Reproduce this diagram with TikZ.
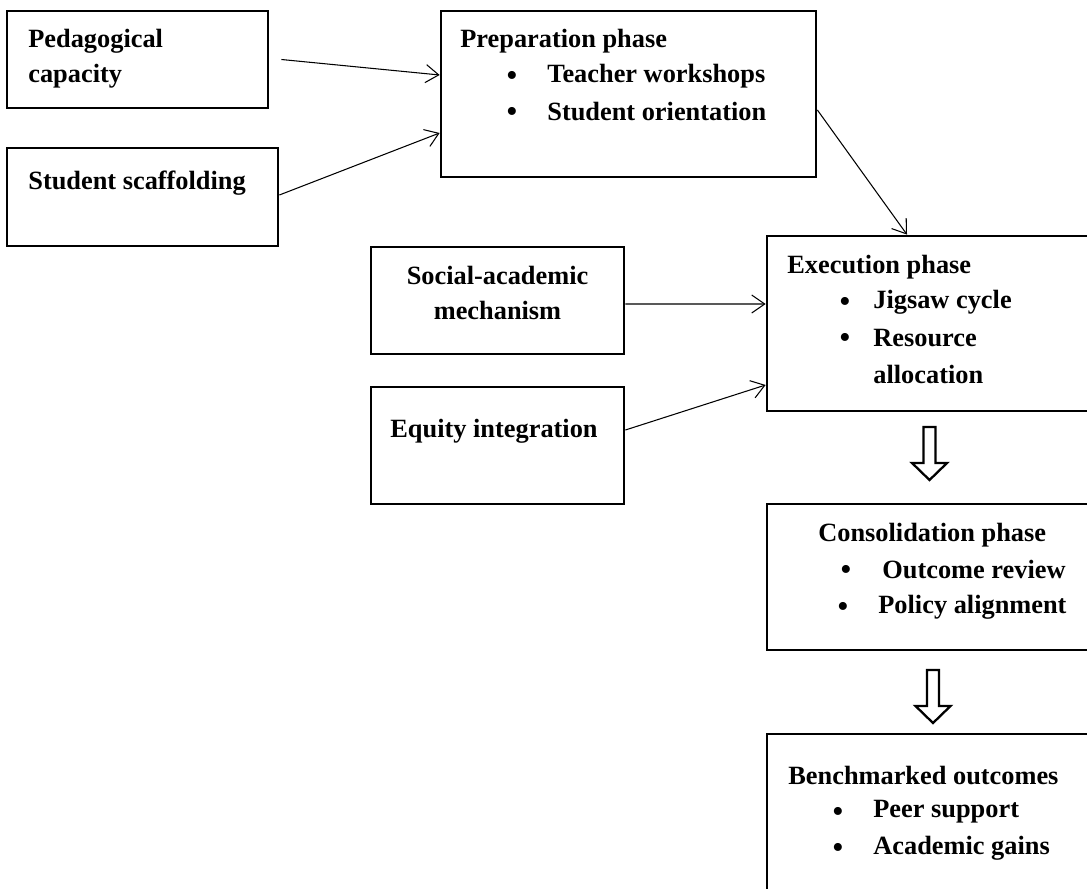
\documentclass[tikz,border=0pt]{standalone}
\usepackage{fontspec}
\setmainfont{Liberation Serif}
\usetikzlibrary{arrows.meta}

\tikzset{
  box/.style={draw, line width=1.6pt, rectangle, inner sep=0pt},
  txt/.style={anchor=west, inner sep=0pt, font=\fontsize{15}{18}\selectfont\bfseries},
  ctxt/.style={inner sep=0pt, font=\fontsize{15}{18}\selectfont\bfseries},
  dot/.style={inner sep=0pt, font=\fontsize{19}{20}\selectfont},
  link/.style={line width=0.6pt, -{Straight Barb[length=2.6mm,width=3.6mm]}},
  hollowdown/.pic={
    \draw[line width=1.3pt, fill=white]
      (-6,0) -- (6,0) -- (6,36) -- (17.5,36) -- (0,53) -- (-17.5,36) -- (-6,36) -- cycle;
  }
}

\begin{document}
\begin{tikzpicture}[x=0.02cm, y=-0.02cm]
  \useasboundingbox (0,0) rectangle (1087,888);

  % left inputs
  \node[box, minimum width=5.22cm, minimum height=1.94cm] (ped) at (137.5,59.5) {};
  \node[txt] (pedA) at (28,41) {Pedagogical};
  \node[txt] (pedB) at (28,76) {capacity};

  \node[box, minimum width=5.42cm, minimum height=1.96cm] (scaf) at (142.5,197) {};
  \node[txt] (scafA) at (28,183) {Student scaffolding};

  % Preparation phase
  \node[box, minimum width=7.5cm, minimum height=3.32cm] (prep) at (628.5,94) {};
  \node[txt] (prepT) at (460,41) {Preparation phase};
  \node[dot] (prepB1) at (512,79) {\textbullet};
  \node[txt] (prepI1) at (547,76) {Teacher workshops};
  \node[dot] (prepB2) at (512,115) {\textbullet};
  \node[txt] (prepI2) at (547,112) {Student orientation};

  % middle inputs
  \node[box, minimum width=5.06cm, minimum height=2.14cm] (soc) at (497.5,300.5) {};
  \node[ctxt] (socA) at (497.5,275) {Social-academic};
  \node[ctxt] (socB) at (497.5,310) {mechanism};

  \node[box, minimum width=5.06cm, minimum height=2.34cm] (eq) at (497.5,445.5) {};
  \node[ctxt] (eqA) at (494,431) {Equity integration};

  % Execution phase
  \node[box, minimum width=6.6cm, minimum height=3.5cm] (exec) at (932,323.5) {};
  \node[txt] (execT) at (787,267) {Execution phase};
  \node[dot] (execB1) at (845,305) {\textbullet};
  \node[txt] (execI1) at (873,302) {Jigsaw cycle};
  \node[dot] (execB2) at (845,341) {\textbullet};
  \node[txt] (execI2) at (873,338) {Resource};
  \node[txt] (execI3) at (873,374) {allocation};

  % Consolidation phase
  \node[box, minimum width=6.6cm, minimum height=2.92cm] (cons) at (932,577) {};
  \node[txt] (consT) at (818,535) {Consolidation phase};
  \node[dot] (consB1) at (846,573) {\textbullet};
  \node[txt] (consI1) at (882,570) {Outcome review};
  \node[dot] (consB2) at (843,610) {\textbullet};
  \node[txt] (consI2) at (878,607) {Policy alignment};

  % Benchmarked outcomes
  \node[box, minimum width=6.6cm, minimum height=3.32cm] (bench) at (932,817) {};
  \node[txt] (benchT) at (788,776) {Benchmarked outcomes};
  \node[dot] (benchB1) at (838,815) {\textbullet};
  \node[txt] (benchI1) at (873,812) {Peer support};
  \node[dot] (benchB2) at (838,851) {\textbullet};
  \node[txt] (benchI2) at (873,848) {Academic gains};

  % connectors
  \draw[link] ([xshift=0.24cm]ped.east) -- ([yshift=0.38cm]prep.west);
  \draw[link] ([yshift=0.04cm]scaf.east) -- ([yshift=-0.78cm]prep.west);
  \draw[link] ([yshift=-0.32cm]prep.east) -- ([xshift=-0.5cm]exec.north);
  \draw[link] ([yshift=-0.07cm]soc.east) -- ([yshift=0.39cm]exec.west);
  \draw[link] ([yshift=0.31cm]eq.east) -- ([yshift=-1.23cm]exec.west);

  % phase transitions
  \pic at (929.5,427) {hollowdown};
  \pic at (933,670) {hollowdown};
\end{tikzpicture}
\end{document}
